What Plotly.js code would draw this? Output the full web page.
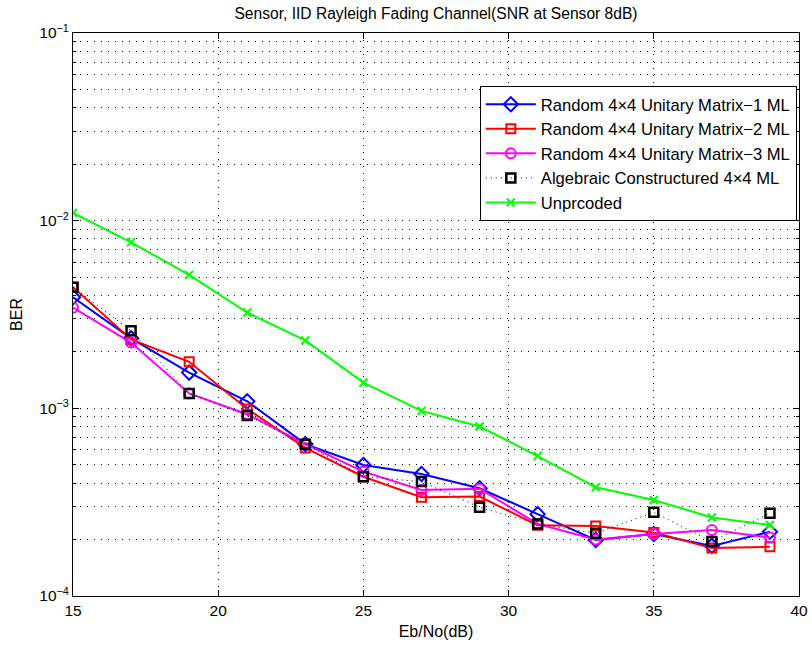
<!DOCTYPE html>
<html>
<head>
<meta charset="utf-8">
<script src="https://cdn.plot.ly/plotly-3.0.1.min.js"></script>
<style>html,body{margin:0;padding:0;background:#fff;}#chart{width:812px;height:648px;}</style>
</head>
<body>
<div id="chart"></div>
<script>
const ebno = [15, 17, 19, 21, 23, 25, 27, 29, 31, 33, 35, 37, 39];
const random1 = [3.91e-3, 2.36e-3, 1.55e-3, 1.09e-3, 6.45e-4, 4.99e-4, 4.47e-4, 3.75e-4, 2.73e-4, 1.99e-4, 2.14e-4, 1.85e-4, 2.20e-4];
const random2 = [4.42e-3, 2.33e-3, 1.77e-3, 0.993e-3, 6.15e-4, 4.32e-4, 3.36e-4, 3.39e-4, 2.38e-4, 2.36e-4, 2.18e-4, 1.80e-4, 1.83e-4];
const random3 = [3.44e-3, 2.24e-3, 1.20e-3, 0.93e-3, 6.44e-4, 4.6e-4, 3.67e-4, 3.73e-4, 2.42e-4, 2.0e-4, 2.14e-4, 2.25e-4, 2.05e-4];
const algebraic = [4.42e-3, 2.59e-3, 1.20e-3, 0.915e-3, 6.44e-4, 4.32e-4, 4.07e-4, 2.97e-4, 2.42e-4, 2.16e-4, 2.79e-4, 1.95e-4, 2.76e-4];
const uncoded = [1.1e-2, 7.67e-3, 5.14e-3, 3.24e-3, 2.30e-3, 1.37e-3, 9.69e-4, 8.0e-4, 5.57e-4, 3.80e-4, 3.25e-4, 2.62e-4, 2.39e-4];

const seriesNames = [
  'Random 4×4 Unitary Matrix−1 ML',
  'Random 4×4 Unitary Matrix−2 ML',
  'Random 4×4 Unitary Matrix−3 ML',
  'Algebraic Constructured 4×4 ML',
  'Unprcoded'
];
const xTicks = [15, 20, 25, 30, 35, 40];
const yDecades = [1e-4, 1e-3, 1e-2, 1e-1];
const yTickText = ['10<sup>−4</sup>', '10<sup>−3</sup>', '10<sup>−2</sup>', '10<sup>−1</sup>'];
const yMinor = [];
for (let d = 0; d < yDecades.length - 1; d++) {
  for (let k = 2; k <= 9; k++) yMinor.push(k * yDecades[d]);
}

const FONT = 'Liberation Sans, Arial, Helvetica, sans-serif';
const GRIDDASH = '1px,6px';

const traces = [
  {x: ebno, y: random1, name: seriesNames[0], mode: 'lines+markers',
   line: {color: '#0000ff', width: 2},
   marker: {symbol: 'diamond-open', size: 11, color: '#0000ff', line: {width: 2, color: '#0000ff'}}},
  {x: ebno, y: random2, name: seriesNames[1], mode: 'lines+markers',
   line: {color: '#ff0000', width: 2},
   marker: {symbol: 'square-open', size: 9, color: '#ff0000', line: {width: 2, color: '#ff0000'}}},
  {x: ebno, y: random3, name: seriesNames[2], mode: 'lines+markers',
   line: {color: '#ff00ff', width: 2},
   marker: {symbol: 'circle-open', size: 10, color: '#ff00ff', line: {width: 2, color: '#ff00ff'}}},
  {x: ebno, y: algebraic, name: seriesNames[3], mode: 'lines+markers',
   line: {color: '#000000', width: 1, dash: '1px,4px'},
   marker: {symbol: 'square-open', size: 9, color: '#000000', line: {width: 2.5, color: '#000000'}}},
  {x: ebno, y: uncoded, name: seriesNames[4], mode: 'lines+markers',
   line: {color: '#00ff00', width: 2},
   marker: {symbol: 'x-thin-open', size: 8, color: '#00ff00', line: {width: 2, color: '#00ff00'}}}
];

const layout = {
  width: 812, height: 648,
  margin: {l: 73, r: 13, t: 33, b: 52, pad: 0},
  paper_bgcolor: '#ffffff', plot_bgcolor: '#ffffff',
  font: {family: FONT, size: 15, color: '#000'},
  title: {text: 'Sensor, IID Rayleigh Fading Channel(SNR at Sensor 8dB)',
          font: {family: FONT, size: 15.6, color: '#000'},
          x: 0.5, xref: 'paper', y: 1 - 14 / 648, yref: 'container', yanchor: 'middle'},
  xaxis: {
    range: [15, 40], tickmode: 'array', tickvals: xTicks,
    ticks: 'inside', ticklen: 6, tickcolor: '#000', tickwidth: 1,
    showline: true, linecolor: '#000', linewidth: 1, mirror: 'ticks',
    showgrid: true, gridcolor: '#000', gridwidth: 1, griddash: GRIDDASH,
    zeroline: false, tickfont: {family: FONT, size: 15.5, color: '#000'},
    title: {text: 'Eb/No(dB)', font: {family: FONT, size: 16, color: '#000'}, standoff: 8}
  },
  yaxis: {
    type: 'log', range: [-4, -1], tickmode: 'array', tickvals: yDecades, ticktext: yTickText,
    ticks: 'inside', ticklen: 6, tickcolor: '#000', tickwidth: 1,
    showline: true, linecolor: '#000', linewidth: 1, mirror: 'ticks',
    showgrid: true, gridcolor: '#000', gridwidth: 1, griddash: GRIDDASH,
    minor: {tickmode: 'array', tickvals: yMinor, ticks: 'inside', ticklen: 3, tickcolor: '#000',
            showgrid: true, gridcolor: '#000', gridwidth: 1, griddash: GRIDDASH},
    zeroline: false, tickfont: {family: FONT, size: 15.5, color: '#000'},
    title: {text: 'BER', font: {family: FONT, size: 16, color: '#000'}, standoff: 12}
  },
  legend: {
    x: 0.997, xanchor: 'right', y: 0.906, yanchor: 'top',
    bgcolor: '#ffffff', bordercolor: '#000', borderwidth: 1,
    font: {family: FONT, size: 16.6, color: '#000'}, itemwidth: 50
  },
  showlegend: true
};

Plotly.newPlot('chart', traces, layout, {staticPlot: true, displayModeBar: false});
</script>
</body>
</html>
